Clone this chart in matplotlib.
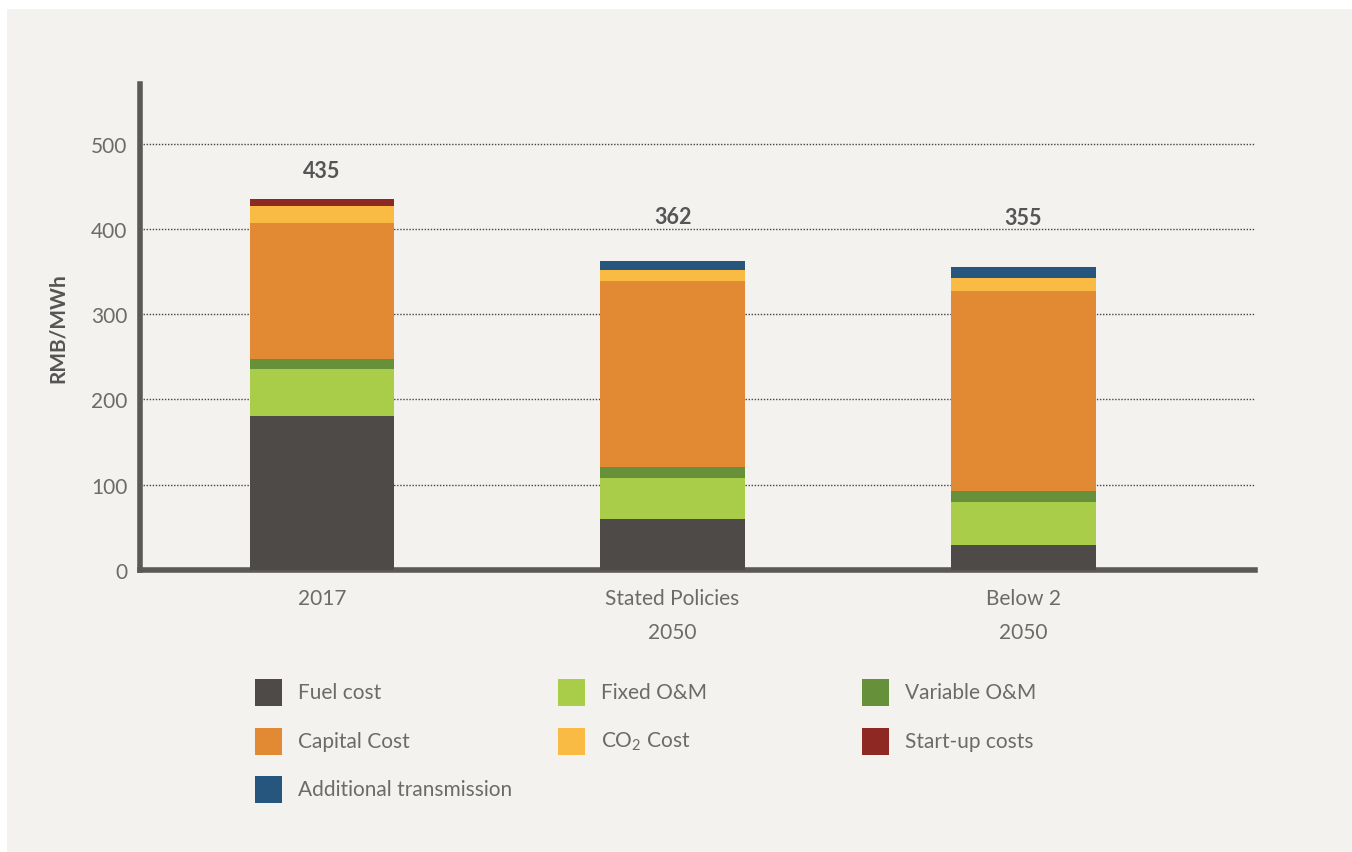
import matplotlib
matplotlib.use("Agg")
import matplotlib.pyplot as plt
from matplotlib.patches import Rectangle
import numpy as np

# Levelised cost components, RMB/MWh
scenarios = ["2017", "Stated Policies\n2050", "Below 2\n2050"]
totals = [435, 362, 355]

fuel_cost = [181, 60, 29]
fixed_om = [55, 48, 51]
variable_om = [12, 13, 13]
capital_cost = [159, 218, 234]
co2_cost = [20, 13, 15]
startup_cost = [8, 0, 0]
transmission = [0, 10, 13]

series = [fuel_cost, fixed_om, variable_om, capital_cost, co2_cost, startup_cost, transmission]
names = ["Fuel cost", "Fixed O&M", "Variable O&M", "Capital Cost",
         "CO$_2$ Cost", "Start-up costs", "Additional transmission"]
colors = ["#4e4a48", "#a9cd48", "#67903a", "#e18a33", "#f9bb43", "#8e2822", "#26557e"]

bg = "#f3f2ee"
txt = "#6b6b6b"

plt.rcParams["font.family"] = ["Lato", "DejaVu Sans"]
plt.rcParams["mathtext.fontset"] = "custom"
plt.rcParams["mathtext.rm"] = "Lato"

W, H = 1352, 853
fig = plt.figure(figsize=(W / 100, H / 100), dpi=100, facecolor="white")
fig.patches.append(Rectangle((7 / W, 0), 1 - 7 / W, 1 - 10 / H, transform=fig.transFigure,
                             facecolor=bg, edgecolor="none", zorder=-10))

# axes box in pixels: x 140..1255, y 85..571 (from top)
ax = fig.add_axes([140 / W, 1 - 571 / H, (1255 - 140) / W, (571 - 85) / H])
ax.set_facecolor("none")

x = np.arange(len(scenarios))
bottom = np.zeros(len(scenarios))
for vals, col in zip(series, colors):
    ax.bar(x, vals, 0.413, bottom=bottom, color=col, edgecolor="none", zorder=3)
    bottom += np.array(vals)

# total labels above each stack
lbl_pad = [33, 53, 59]
for xi, tot, pad in zip(x, totals, lbl_pad):
    ax.text(xi, tot + pad, str(tot), ha="center", va="center", fontsize=15.5,
            fontweight="bold", color="#555555")

ax.set_xlim(-0.519, 2.661)
ax.set_ylim(0, 570)
ax.set_yticks([0, 100, 200, 300, 400, 500])
for yv in [100, 200, 300, 400, 500]:
    ax.axhline(yv, color="#444444", lw=1.0, ls=(0, (1, 1.2)), zorder=1)

ax.set_xticks(x)
ax.set_xticklabels(scenarios, fontsize=15, color=txt, linespacing=1.85)
ax.tick_params(axis="x", length=0, pad=13)
ax.tick_params(axis="y", length=0, pad=9, labelsize=15, labelcolor=txt)
for lab in ax.get_yticklabels():
    lab.set_verticalalignment("center_baseline")

for s in ["top", "right"]:
    ax.spines[s].set_visible(False)
for s in ["left", "bottom"]:
    ax.spines[s].set_color("#5a5958")
    ax.spines[s].set_linewidth(4)

ax.set_ylabel("RMB/MWh", fontsize=15, fontweight="bold", color="#555555", labelpad=17)

# legend, three columns laid out row by row
col_x = [255, 558, 862]
row_y = [693, 742, 790]
sq = 27
for i, (name, col) in enumerate(zip(names, colors)):
    cx = col_x[i % 3]
    cy = row_y[i // 3]
    fig.patches.append(Rectangle((cx / W, 1 - (cy + sq / 2) / H), sq / W, sq / H,
                                 transform=fig.transFigure, facecolor=col, edgecolor="none"))
    fig.text((cx + 43) / W, 1 - cy / H, name, ha="left", va="center",
             fontsize=15, color=txt)

fig.savefig("out.png", dpi=100, facecolor=fig.get_facecolor())
